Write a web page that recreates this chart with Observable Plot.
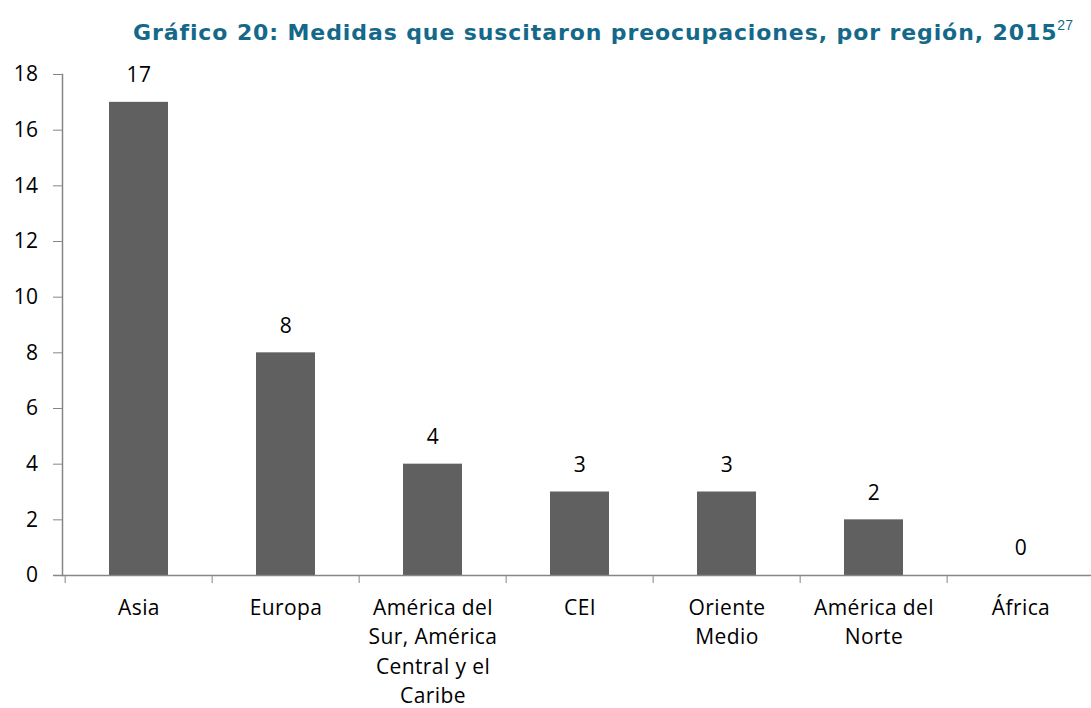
<!DOCTYPE html>
<html>
<head>
<meta charset="utf-8">
<script src="https://cdn.jsdelivr.net/npm/d3@7"></script>
<script src="https://cdn.jsdelivr.net/npm/@observablehq/plot@0.6"></script>
<style>
  html, body { margin: 0; padding: 0; background: #fff; }
  #title { position: relative; height: 50px; width: 1091px; }
  #title span.t { position: absolute; left: 133px; top: 19px; white-space: nowrap;
    font-family: "DejaVu Sans", Verdana, sans-serif; font-weight: bold; font-size: 22px;
    color: #14698a; letter-spacing: 0.9px; }
  #title sup { font-family: "Liberation Sans", Arial, sans-serif; font-weight: normal; font-size: 14px; position: relative; top: -2px; letter-spacing: 0; }
</style>
</head>
<body>
<div id="title"><span class="t">Gráfico 20: Medidas que suscitaron preocupaciones, por región, 2015<sup>27</sup></span></div>
<div id="chart"></div>
<script>
const categories = ["Asia", "Europa", "América del\nSur, América\nCentral y el\nCaribe", "CEI", "Oriente\nMedio", "América del\nNorte", "África"];
const values = [17, 8, 4, 3, 3, 2, 0];
const yTicks = [0, 2, 4, 6, 8, 10, 12, 14, 16, 18];

const data = categories.map((c, i) => ({region: c, value: values[i]}));

const W = 1091, ML = 62, MR = -5;
const step = (W - ML - MR) / categories.length;
const axisColor = "#868686";
const font = "'Open Sans', sans-serif";

const chart = Plot.plot({
  width: W,
  height: 658,
  marginLeft: ML,
  marginRight: MR,
  marginTop: 24,
  marginBottom: 133,
  style: {fontFamily: font, fontSize: "21px", color: "#000", background: "#fff", letterSpacing: "0.4px"},
  x: {type: "band", domain: categories, paddingInner: 0.6, paddingOuter: 0.3, axis: null},
  y: {domain: [0, 18], axis: null},
  marks: [
    Plot.barY(data, {x: "region", y: "value", fill: "#606060"}),
    Plot.axisY({ticks: yTicks, label: null, tickSize: 9, tickPadding: 15, stroke: axisColor, fill: "#000", fontSize: 21, fontFamily: font}),
    Plot.frame({anchor: "left", stroke: axisColor, strokeWidth: 1.5}),
    Plot.ruleY([0], {stroke: axisColor, strokeWidth: 1.5, insetLeft: -9}),
    Plot.axisX({label: null, tickSize: 8, tickFormat: () => "", dx: -step / 2, stroke: axisColor}),
    Plot.text(data, {x: "region", y: "value", text: d => String(d.value), dy: -27, fontSize: 21, fill: "#000"}),
    Plot.text(data, {x: "region", y: () => 0, text: "region", lineAnchor: "top", dy: 18, lineHeight: 1.41, fontSize: 21, fill: "#000"})
  ]
});
document.getElementById("chart").appendChild(chart);
</script>
</body>
</html>
